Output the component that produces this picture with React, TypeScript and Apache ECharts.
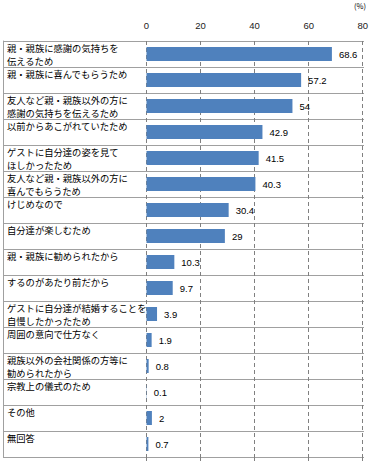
import React, { useEffect, useRef } from "react";
import * as echarts from "echarts";

const categories = [
  "親・親族に感謝の気持ちを\n伝えるため",
  "親・親族に喜んでもらうため",
  "友人など親・親族以外の方に\n感謝の気持ちを伝えるため",
  "以前からあこがれていたため",
  "ゲストに自分達の姿を見て\nほしかったため",
  "友人など親・親族以外の方に\n喜んでもらうため",
  "けじめなので",
  "自分達が楽しむため",
  "親・親族に勧められたから",
  "するのがあたり前だから",
  "ゲストに自分達が結婚することを\n自慢したかったため",
  "周囲の意向で仕方なく",
  "親族以外の会社関係の方等に\n勧められたから",
  "宗教上の儀式のため",
  "その他",
  "無回答",
];

const values = [68.6, 57.2, 54, 42.9, 41.5, 40.3, 30.4, 29, 10.3, 9.7, 3.9, 1.9, 0.8, 0.1, 2, 0.7];

const xTicks = [0, 20, 40, 60, 80];
const unitLabel = "(%)";

const twoLine = (s: string) => (s.includes("\n") ? s : s + "\n ");

export default function App() {
  const ref = useRef<HTMLDivElement>(null);
  useEffect(() => {
    if (!ref.current) return;
    const chart = echarts.init(ref.current, null, { renderer: "svg" });
    const GRID = { top: 41, bottom: 13 };
    chart.setOption({
      animation: false,
      backgroundColor: "#ffffff",
      textStyle: { fontFamily: "Noto Sans CJK JP" },
      grid: [
        { left: 3, right: 7, top: GRID.top, bottom: GRID.bottom, containLabel: false },
        { left: 146.5, right: 7, top: GRID.top, bottom: GRID.bottom, containLabel: false },
      ],
      xAxis: [
        {
          gridIndex: 0,
          type: "value",
          show: false,
          min: 0,
          max: 1,
        },
        {
          gridIndex: 1,
          type: "value",
          position: "top",
          min: xTicks[0],
          max: xTicks[xTicks.length - 1],
          interval: xTicks[1] - xTicks[0],
          axisLine: { show: false },
          axisTick: { show: false },
          axisLabel: {
            margin: 11,
            fontSize: 9.5,
            fontFamily: "Liberation Sans",
            color: "#222",
          },
          splitLine: {
            show: true,
            lineStyle: { color: "#808080", type: [4, 3], width: 1 },
          },
        },
        {
          gridIndex: 1,
          type: "value",
          position: "bottom",
          min: xTicks[0],
          max: xTicks[xTicks.length - 1],
          interval: xTicks[1] - xTicks[0],
          axisLine: { show: false },
          axisLabel: { show: false },
          axisTick: { show: true, length: 4, lineStyle: { color: "#808080" } },
          splitLine: { show: false },
        },
      ],
      yAxis: [
        {
          gridIndex: 0,
          type: "category",
          inverse: true,
          data: categories.map(twoLine),
          axisLine: { show: true, lineStyle: { color: "#a0a0a0", width: 1 } },
          axisTick: { show: false },
          splitLine: { show: true, lineStyle: { color: "#a0a0a0", width: 1 } },
          axisLabel: {
            inside: true,
            margin: 4,
            align: "left",
            verticalAlign: "middle",
            fontSize: 9.3,
            lineHeight: 13,
            color: "#000",
            fontFamily: "Noto Sans CJK JP",
            interval: 0,
          },
        },
        {
          gridIndex: 1,
          type: "category",
          inverse: true,
          data: categories,
          axisLine: { show: false },
          axisTick: { show: false },
          axisLabel: { show: false },
        },
      ],
      series: [
        {
          type: "bar",
          xAxisIndex: 1,
          yAxisIndex: 1,
          data: values,
          barWidth: 14,
          itemStyle: { color: "#4F81BD" },
          label: {
            show: true,
            position: "right",
            distance: 7,
            fontSize: 9.5,
            fontFamily: "Liberation Sans",
            color: "#000",
          },
        },
      ],
      graphic: [
        {
          type: "text",
          right: 5,
          top: 2,
          style: { text: unitLabel, fontSize: 7.5, fill: "#000", fontFamily: "Noto Sans CJK JP" },
        },
      ],
    });
    return () => chart.dispose();
  }, []);
  return (
    <div
      ref={ref}
      style={{ position: "absolute", left: 0, top: 0, width: 371, height: 470 }}
    />
  );
}
